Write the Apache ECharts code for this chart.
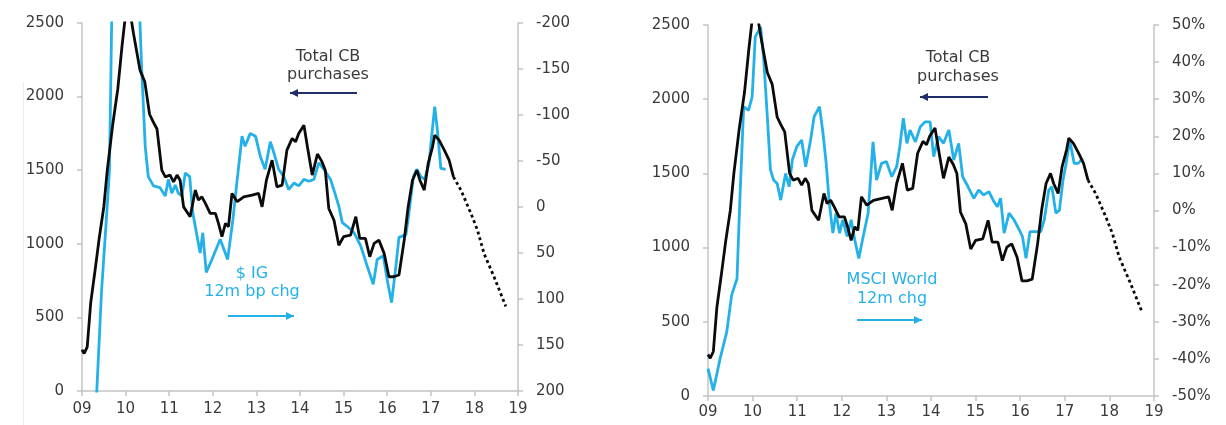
<!DOCTYPE html>
<html>
<head>
<meta charset="utf-8">
<script src="https://cdn.jsdelivr.net/npm/echarts@6/dist/echarts.min.js"></script>
<style>
    html, body { margin: 0; padding: 0; background: #fff; }
    #kg { width: 1226px; height: 425px; }
</style>
</head>
<body>
<div id="kg"></div>
<script>
// year ticks on the x axis
var yearTicks = ['09', '10', '11', '12', '13', '14', '15', '16', '17', '18', '19'];

// Total CB purchases (left axes, both panels)
var cbPurchases = [
    [2009.00, 280], [2009.05, 255], [2009.12, 300], [2009.20, 600], [2009.30, 820],
    [2009.40, 1050], [2009.50, 1250], [2009.58, 1500], [2009.70, 1800], [2009.82, 2050],
    [2009.92, 2350], [2010.00, 2560], [2010.10, 2580], [2010.18, 2430], [2010.33, 2180],
    [2010.44, 2100], [2010.55, 1880], [2010.63, 1830], [2010.72, 1780], [2010.83, 1500],
    [2010.91, 1455], [2011.02, 1467], [2011.10, 1421], [2011.18, 1467], [2011.25, 1432],
    [2011.33, 1251], [2011.48, 1184], [2011.60, 1365], [2011.67, 1297], [2011.75, 1319],
    [2011.83, 1274], [2011.94, 1207], [2012.06, 1207], [2012.13, 1139], [2012.21, 1048],
    [2012.29, 1139], [2012.36, 1116], [2012.44, 1342], [2012.56, 1286], [2012.71, 1319],
    [2012.90, 1331], [2013.05, 1342], [2013.13, 1251], [2013.23, 1432], [2013.36, 1568],
    [2013.47, 1387], [2013.59, 1399], [2013.70, 1636], [2013.82, 1716], [2013.90, 1693],
    [2013.97, 1750], [2014.09, 1806], [2014.17, 1659], [2014.28, 1467], [2014.40, 1610],
    [2014.50, 1560], [2014.58, 1500], [2014.66, 1240], [2014.78, 1160], [2014.89, 990],
    [2015.00, 1048], [2015.16, 1059], [2015.28, 1184], [2015.37, 1037], [2015.50, 1037],
    [2015.60, 912], [2015.70, 1003], [2015.81, 1025], [2015.93, 935], [2016.04, 776],
    [2016.15, 776], [2016.27, 788], [2016.39, 1025], [2016.48, 1251], [2016.58, 1432],
    [2016.68, 1500], [2016.75, 1432], [2016.85, 1365], [2016.94, 1546], [2017.04, 1659],
    [2017.09, 1738], [2017.19, 1704], [2017.31, 1636], [2017.42, 1568], [2017.52, 1455]
];

// projected CB purchases (dotted)
var cbProjection = [
    [2017.52, 1455], [2017.69, 1365], [2017.92, 1207], [2018.07, 1093],
    [2018.22, 935], [2018.45, 776], [2018.72, 575]
];

// $ IG 12m bp chg (right axis of left panel, inverted)
var igChg = [
    [2009.30, 240], [2009.34, 199], [2009.45, 90], [2009.57, 5], [2009.63, -40],
    [2009.68, -200], [2009.75, -260], [2010.25, -260], [2010.33, -200], [2010.37, -149],
    [2010.45, -66], [2010.52, -33], [2010.64, -23], [2010.79, -21], [2010.91, -12],
    [2010.98, -30], [2011.06, -15], [2011.14, -24], [2011.21, -15], [2011.29, -12],
    [2011.37, -37], [2011.47, -33], [2011.54, 6], [2011.64, 32], [2011.71, 50],
    [2011.77, 28], [2011.85, 71], [2011.98, 57], [2012.17, 35], [2012.34, 57],
    [2012.46, 14], [2012.56, -30], [2012.67, -77], [2012.74, -66], [2012.86, -80],
    [2012.98, -77], [2013.09, -55], [2013.20, -41], [2013.32, -71], [2013.40, -59],
    [2013.51, -41], [2013.63, -33], [2013.74, -19], [2013.86, -26], [2013.97, -23],
    [2014.09, -30], [2014.20, -28], [2014.32, -30], [2014.43, -48], [2014.55, -41],
    [2014.70, -30], [2014.80, -15], [2014.89, -1], [2014.97, 17], [2015.08, 21],
    [2015.24, 28], [2015.39, 42], [2015.54, 64], [2015.68, 84], [2015.77, 57],
    [2015.91, 53], [2016.00, 79], [2016.10, 104], [2016.20, 64], [2016.27, 33],
    [2016.43, 30], [2016.50, 6], [2016.60, -33], [2016.68, -41], [2016.77, -33],
    [2016.86, -30], [2016.96, -48], [2017.02, -77], [2017.09, -109], [2017.15, -84],
    [2017.23, -42], [2017.34, -41]
];

// MSCI World 12m chg, % (right axis of right panel)
var msciChg = [
    [2009.00, -42.6], [2009.12, -48.5], [2009.27, -40], [2009.42, -32.7], [2009.53, -22.8],
    [2009.65, -18.4], [2009.72, 4.5], [2009.80, 28], [2009.91, 27], [2009.99, 30.7],
    [2010.06, 46.8], [2010.18, 49.5], [2010.25, 40.6], [2010.33, 25.3], [2010.40, 11],
    [2010.47, 8.2], [2010.55, 7.3], [2010.63, 2.8], [2010.74, 10], [2010.82, 6.4],
    [2010.89, 13.6], [2010.99, 17.2], [2011.10, 19], [2011.19, 11.8], [2011.30, 19],
    [2011.38, 25.3], [2011.50, 28], [2011.57, 21.7], [2011.65, 12.7], [2011.72, 2],
    [2011.80, -6.1], [2011.87, -0.7], [2011.95, -6.1], [2012.02, -2.5], [2012.12, -7],
    [2012.21, -2.5], [2012.29, -7.9], [2012.38, -12.9], [2012.48, -7], [2012.59, -0.7],
    [2012.70, 18.5], [2012.78, 8.2], [2012.89, 12.7], [2013.00, 13.2], [2013.12, 9.1],
    [2013.23, 11.8], [2013.30, 17.2], [2013.38, 24.9], [2013.46, 18.1], [2013.53, 21.7],
    [2013.65, 18.5], [2013.76, 22.6], [2013.87, 23.9], [2013.98, 23.9], [2014.06, 14.5],
    [2014.17, 19.9], [2014.28, 18.1], [2014.40, 21.7], [2014.51, 13.6], [2014.62, 18.1],
    [2014.71, 9.1], [2014.83, 6.4], [2014.96, 3.3], [2015.07, 5.5], [2015.18, 4.2],
    [2015.30, 5.1], [2015.41, 2.4], [2015.49, 1], [2015.56, 3.3], [2015.64, -6.1],
    [2015.75, -0.7], [2015.86, -2.5], [2015.98, -5.2], [2016.05, -7], [2016.13, -12.9],
    [2016.22, -5.7], [2016.35, -5.7], [2016.46, -5.7], [2016.54, -2.5], [2016.64, 5.5],
    [2016.71, 6.4], [2016.80, -0.7], [2016.88, 0.1], [2016.96, 8.2], [2017.03, 12.7],
    [2017.11, 19], [2017.21, 12.7], [2017.30, 12.7], [2017.40, 14]
];

var black = '#0b0b0b';
var blue = '#23b1e8';
var navy = '#1f2d6b';
var axisGrey = '#c4c4c4';
var labelGrey = '#3a3a3a';
var font = 'DejaVu Sans';

function plainNum(v) { return String(v); }
function pct(v) { return v + '%'; }

function xAxisFor(gridIndex, margin) {
    return {
        type: 'value', gridIndex: gridIndex,
        min: 2009, max: 2019, interval: 1,
        axisLine: { lineStyle: { color: axisGrey, width: 1.5 } },
        axisTick: { show: true, length: 5, lineStyle: { color: axisGrey, width: 1.5 } },
        splitLine: { show: false },
        axisLabel: {
            color: labelGrey, fontSize: 15, fontFamily: font, margin: margin,
            formatter: function (v) { return yearTicks[Math.round(v) - 2009]; }
        }
    };
}

function yAxisFor(gridIndex, pos, min, max, interval, fmt, inverse) {
    return {
        type: 'value', gridIndex: gridIndex, position: pos,
        min: min, max: max, interval: interval, inverse: !!inverse,
        axisLine: { show: true, lineStyle: { color: axisGrey, width: 1.5 } },
        axisTick: { show: true, length: 5, lineStyle: { color: axisGrey, width: 1.5 } },
        splitLine: { show: false },
        axisLabel: { color: labelGrey, fontSize: 15, fontFamily: font, margin: 18, formatter: fmt }
    };
}

function lineSeries(x, y, data, color, dotted) {
    return {
        type: 'line', xAxisIndex: x, yAxisIndex: y, data: data,
        showSymbol: false, symbol: 'none', silent: true, animation: false,
        lineStyle: { color: color, width: 2.8, type: dotted ? [3, 3] : 'solid' }
    };
}

function txt(x, y, s, color, size) {
    return {
        type: 'text', x: x, y: y, z: 10,
        style: { text: s, fill: color, font: size + 'px "' + font + '"', align: 'center', verticalAlign: 'middle' }
    };
}

// arrow: shaft + small head
function arrow(x1, x2, y, color, pointLeft) {
    var tip = pointLeft ? x1 : x2;
    var d = pointLeft ? 8 : -8;
    return [
        { type: 'line', z: 10, shape: { x1: x1, y1: y, x2: x2, y2: y }, style: { stroke: color, lineWidth: 2 } },
        { type: 'polygon', z: 10, shape: { points: [[tip, y], [tip + d, y - 4], [tip + d, y + 4]] }, style: { fill: color } }
    ];
}

var graphics = [
    // crop edge on the far left of the picture
    { type: 'rect', z: 20, shape: { x: 0, y: 82, width: 23, height: 343 }, style: { fill: '#fff' } },
    { type: 'line', z: 20, shape: { x1: 23.5, y1: 82, x2: 23.5, y2: 425 }, style: { stroke: '#ececec', lineWidth: 1 } },
    txt(328, 57, 'Total CB', labelGrey, 16),
    txt(328, 75, 'purchases', labelGrey, 16),
    txt(252, 274, '$ IG', blue, 16),
    txt(252, 292, '12m bp chg', blue, 16),
    txt(958, 58, 'Total CB', labelGrey, 16),
    txt(958, 77, 'purchases', labelGrey, 16),
    txt(892, 280, 'MSCI World', blue, 16),
    txt(892, 299, '12m chg', blue, 16)
].concat(arrow(290, 357, 93, navy, true))
 .concat(arrow(228, 294, 316, blue, false))
 .concat(arrow(920, 988, 97, navy, true))
 .concat(arrow(857, 922, 320, blue, false));

var dom = document.getElementById('kg');
var myChart = echarts.init(dom, null, { renderer: 'canvas' });

myChart.setOption({
    animation: false,
    backgroundColor: '#fff',
    grid: [
        { left: 82, right: 708, top: 23, bottom: 34 },
        { left: 708, right: 72, top: 25, bottom: 29 }
    ],
    xAxis: [xAxisFor(0, 11), xAxisFor(1, 9)],
    yAxis: [
        yAxisFor(0, 'left', 0, 2500, 500, plainNum),
        yAxisFor(0, 'right', -200, 200, 50, plainNum, true),
        yAxisFor(1, 'left', 0, 2500, 500, plainNum),
        yAxisFor(1, 'right', -50, 50, 10, pct)
    ],
    series: [
        lineSeries(0, 1, igChg, blue),
        lineSeries(0, 0, cbPurchases, black),
        lineSeries(0, 0, cbProjection, black, true),
        lineSeries(1, 3, msciChg, blue),
        lineSeries(1, 2, cbPurchases, black),
        lineSeries(1, 2, cbProjection, black, true)
    ],
    graphic: graphics
});
</script>
</body>
</html>
